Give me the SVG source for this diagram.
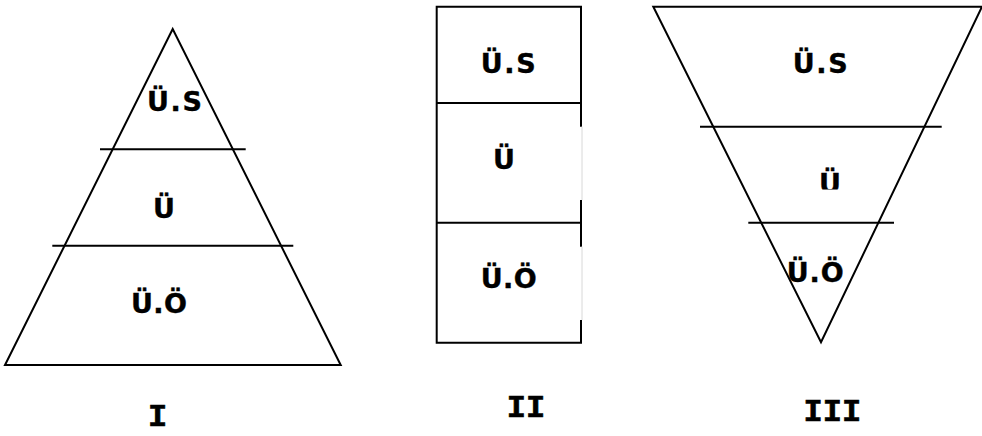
<svg xmlns="http://www.w3.org/2000/svg" width="982" height="436" viewBox="0 0 982 436">
<style>
.ln{stroke:#000;stroke-width:2;fill:none;stroke-linecap:butt}
.lbl{font-family:"DejaVu Sans","Liberation Sans",sans-serif;font-weight:bold;font-size:27px;fill:#000;stroke:#000;stroke-width:0.4}
.num{font-family:"Liberation Mono","DejaVu Sans Mono",monospace;font-weight:bold;font-size:32px;fill:#000;stroke:#000;stroke-width:0.7;text-anchor:middle}
</style>
<defs>
<clipPath id="cutU"><rect x="800" y="150" width="60" height="39.5"/></clipPath>
</defs>
<rect width="982" height="436" fill="#fff"/>
<g id="pyramid-I">
<polygon class="ln" points="172.7,29 5,365 340.7,365"/>
<line class="ln" x1="100" y1="149.3" x2="245.7" y2="149.3"/>
<line class="ln" x1="52.3" y1="245.7" x2="293.3" y2="245.7"/>
<text class="lbl" x="147" y="111" textLength="55" lengthAdjust="spacing">Ü.S</text>
<text class="lbl" x="153" y="218" textLength="20" lengthAdjust="spacing">Ü</text>
<text class="lbl" x="131" y="313" textLength="56" lengthAdjust="spacing">Ü.Ö</text>
<text class="num" x="157.5" y="426">I</text>
</g>
<g id="box-II">
<polyline class="ln" points="581,126.7 581,6.7 436.7,6.7 436.7,342.7 581,342.7 581,320"/>
<line class="ln" x1="581" y1="200" x2="581" y2="246.7"/>
<line x1="582" y1="126.7" x2="582" y2="200" stroke="#d8d8d8" stroke-width="1"/>
<line x1="582" y1="246.7" x2="582" y2="320" stroke="#d8d8d8" stroke-width="1"/>
<line class="ln" x1="436.7" y1="103" x2="581" y2="103"/>
<line class="ln" x1="436.7" y1="222.7" x2="581" y2="222.7"/>
<text class="lbl" x="480.7" y="72.7" textLength="55" lengthAdjust="spacing">Ü.S</text>
<text class="lbl" x="493" y="169" textLength="21" lengthAdjust="spacing">Ü</text>
<text class="lbl" x="480.7" y="288" textLength="56" lengthAdjust="spacing">Ü.Ö</text>
<text class="num" x="526" y="416.7">II</text>
</g>
<g id="pyramid-III">
<polygon class="ln" points="653.3,6.7 982,6.7 821,342.3"/>
<line class="ln" x1="700" y1="126.7" x2="941.7" y2="126.7"/>
<line class="ln" x1="748.3" y1="222.7" x2="894" y2="222.7"/>
<text class="lbl" x="792.7" y="72.7" textLength="55" lengthAdjust="spacing">Ü.S</text>
<text class="lbl" x="819" y="193" textLength="20" lengthAdjust="spacing" clip-path="url(#cutU)">Ü</text>
<text class="lbl" x="786.7" y="281.7" textLength="57" lengthAdjust="spacing">Ü.Ö</text>
<text class="num" x="832.3" y="420.7">III</text>
</g>
</svg>
